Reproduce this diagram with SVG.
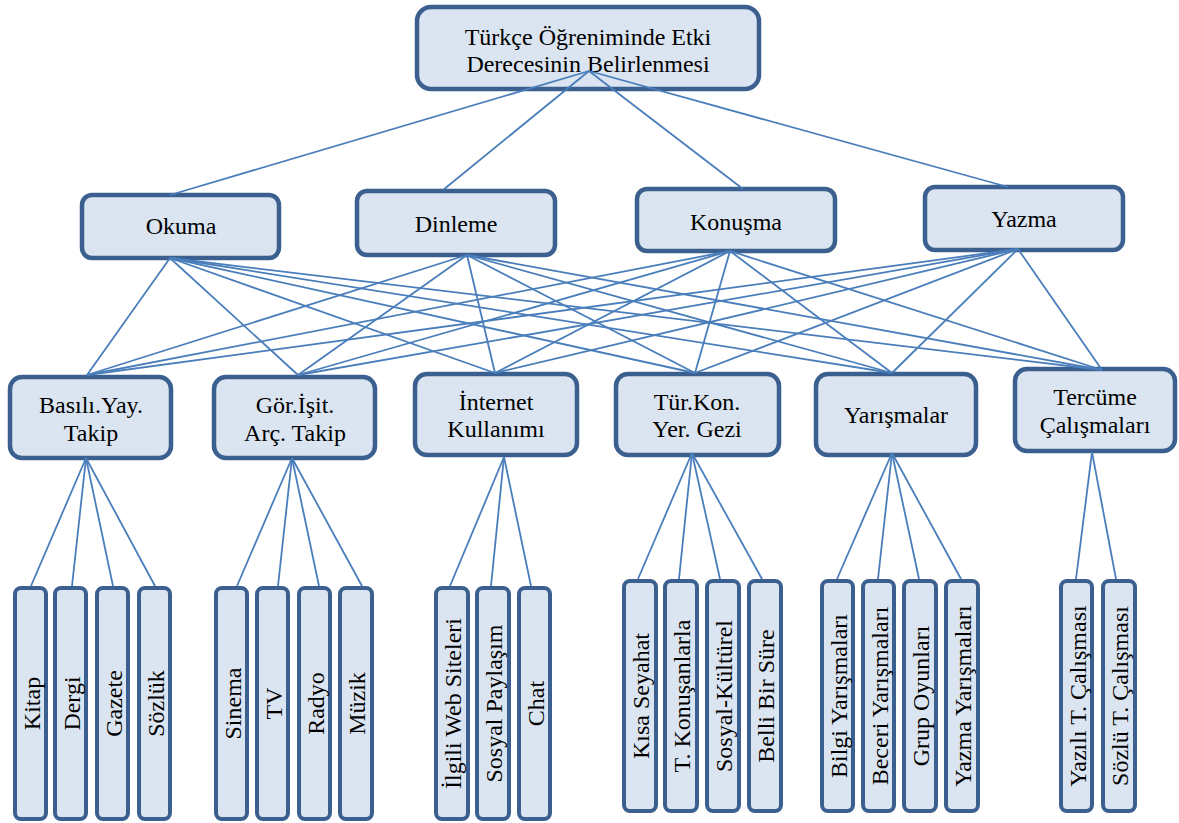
<svg xmlns="http://www.w3.org/2000/svg" width="1179" height="823" viewBox="0 0 1179 823">
<style>
.box{fill:#DBE5F1;stroke:#3B5F8E;stroke-width:4.5}
.leaf{fill:#DBE5F1;stroke:#3B5F8E;stroke-width:4}
.t{font-family:'Liberation Serif','Times New Roman',serif;font-size:24px;fill:#000;text-anchor:middle}
#connectors line{stroke:#4A7EBB;stroke-width:1.8;fill:none}
</style>
<rect width="1179" height="823" fill="#fff"/>
<g id="root"><rect class="box" x="417" y="7" width="342" height="82" rx="14"/><text class="t" x="588" y="45">Türkçe Öğreniminde Etki</text><text class="t" x="588" y="72">Derecesinin Belirlenmesi</text></g>
<g id="okuma"><rect class="box" x="82" y="195" width="197" height="63" rx="10"/><text class="t" x="181" y="234">Okuma</text></g>
<g id="dinleme"><rect class="box" x="357" y="191" width="198" height="64" rx="10"/><text class="t" x="456" y="232">Dinleme</text></g>
<g id="konusma"><rect class="box" x="637" y="189" width="198" height="62" rx="10"/><text class="t" x="736" y="230">Konuşma</text></g>
<g id="yazma"><rect class="box" x="925" y="187" width="198" height="63" rx="10"/><text class="t" x="1024" y="227">Yazma</text></g>
<g id="basili"><rect class="box" x="10" y="377" width="161" height="81" rx="12"/><text class="t" x="91" y="413">Basılı.Yay.</text><text class="t" x="91" y="441">Takip</text></g>
<g id="gorisit"><rect class="box" x="214" y="377" width="161" height="81" rx="12"/><text class="t" x="295" y="413">Gör.İşit.</text><text class="t" x="295" y="441">Arç. Takip</text></g>
<g id="internet"><rect class="box" x="415" y="374" width="162" height="81" rx="12"/><text class="t" x="496" y="410">İnternet</text><text class="t" x="496" y="437">Kullanımı</text></g>
<g id="turkon"><rect class="box" x="616" y="374" width="163" height="81" rx="12"/><text class="t" x="697" y="410">Tür.Kon.</text><text class="t" x="697" y="437">Yer. Gezi</text></g>
<g id="yarismalar"><rect class="box" x="816" y="374" width="160" height="81" rx="12"/><text class="t" x="896" y="423">Yarışmalar</text></g>
<g id="tercume"><rect class="box" x="1015" y="369" width="160" height="82" rx="12"/><text class="t" x="1095" y="405">Tercüme</text><text class="t" x="1095" y="433">Çalışmaları</text></g>
<g id="kitap"><rect class="leaf" x="15" y="588" width="31" height="231" rx="6"/><text class="t" transform="translate(39.5,703.5) rotate(-90)">Kitap</text></g>
<g id="dergi"><rect class="leaf" x="55" y="588" width="31" height="231" rx="6"/><text class="t" transform="translate(79.5,703.5) rotate(-90)">Dergi</text></g>
<g id="gazete"><rect class="leaf" x="97" y="588" width="31" height="231" rx="6"/><text class="t" transform="translate(121.5,703.5) rotate(-90)">Gazete</text></g>
<g id="sozluk"><rect class="leaf" x="139" y="588" width="31" height="231" rx="6"/><text class="t" transform="translate(163.5,703.5) rotate(-90)">Sözlük</text></g>
<g id="sinema"><rect class="leaf" x="216" y="588" width="31" height="231" rx="6"/><text class="t" transform="translate(240.5,703.5) rotate(-90)">Sinema</text></g>
<g id="tv"><rect class="leaf" x="257" y="588" width="31" height="231" rx="6"/><text class="t" transform="translate(281.5,703.5) rotate(-90)">TV</text></g>
<g id="radyo"><rect class="leaf" x="299" y="588" width="31" height="231" rx="6"/><text class="t" transform="translate(323.5,703.5) rotate(-90)">Radyo</text></g>
<g id="muzik"><rect class="leaf" x="340" y="588" width="32" height="231" rx="6"/><text class="t" transform="translate(365,703.5) rotate(-90)">Müzik</text></g>
<g id="ilgili"><rect class="leaf" x="436" y="588" width="32" height="231" rx="6"/><text class="t" transform="translate(461,703.5) rotate(-90)">İlgili Web Siteleri</text></g>
<g id="sosyal"><rect class="leaf" x="477" y="588" width="32" height="231" rx="6"/><text class="t" transform="translate(502,703.5) rotate(-90)">Sosyal Paylaşım</text></g>
<g id="chat"><rect class="leaf" x="519" y="588" width="31" height="231" rx="6"/><text class="t" transform="translate(543.5,703.5) rotate(-90)">Chat</text></g>
<g id="kisa"><rect class="leaf" x="624" y="581" width="32" height="230" rx="6"/><text class="t" transform="translate(649,696) rotate(-90)">Kısa Seyahat</text></g>
<g id="tkon"><rect class="leaf" x="665" y="581" width="32" height="230" rx="6"/><text class="t" transform="translate(690,696) rotate(-90)">T. Konuşanlarla</text></g>
<g id="sosyalk"><rect class="leaf" x="707" y="581" width="32" height="230" rx="6"/><text class="t" transform="translate(732,696) rotate(-90)">Sosyal-Kültürel</text></g>
<g id="belli"><rect class="leaf" x="749" y="581" width="32" height="230" rx="6"/><text class="t" transform="translate(774,696) rotate(-90)">Belli Bir Süre</text></g>
<g id="bilgi"><rect class="leaf" x="822" y="581" width="31" height="230" rx="6"/><text class="t" transform="translate(846.5,696) rotate(-90)">Bilgi Yarışmaları</text></g>
<g id="beceri"><rect class="leaf" x="863" y="581" width="31" height="230" rx="6"/><text class="t" transform="translate(887.5,696) rotate(-90)">Beceri Yarışmaları</text></g>
<g id="grup"><rect class="leaf" x="904" y="581" width="32" height="230" rx="6"/><text class="t" transform="translate(929,696) rotate(-90)">Grup Oyunları</text></g>
<g id="yazmay"><rect class="leaf" x="946" y="581" width="32" height="230" rx="6"/><text class="t" transform="translate(971,696) rotate(-90)">Yazma Yarışmaları</text></g>
<g id="yazili"><rect class="leaf" x="1061" y="581" width="31" height="230" rx="6"/><text class="t" transform="translate(1085.5,696) rotate(-90)">Yazılı T. Çalışması</text></g>
<g id="sozlu"><rect class="leaf" x="1103" y="581" width="32" height="230" rx="6"/><text class="t" transform="translate(1128,696) rotate(-90)">Sözlü T. Çalışması</text></g>
<g id="connectors">
<line x1="589" y1="71" x2="170" y2="195"/>
<line x1="589" y1="71" x2="443" y2="190"/>
<line x1="589" y1="71" x2="743" y2="189"/>
<line x1="589" y1="71" x2="1008" y2="187"/>
<line x1="170" y1="258" x2="87" y2="375"/>
<line x1="170" y1="258" x2="298" y2="375"/>
<line x1="170" y1="258" x2="495" y2="373"/>
<line x1="170" y1="258" x2="695" y2="373"/>
<line x1="170" y1="258" x2="892" y2="373"/>
<line x1="170" y1="258" x2="1102" y2="370"/>
<line x1="467" y1="255" x2="87" y2="375"/>
<line x1="467" y1="255" x2="298" y2="375"/>
<line x1="467" y1="255" x2="495" y2="373"/>
<line x1="467" y1="255" x2="695" y2="373"/>
<line x1="467" y1="255" x2="892" y2="373"/>
<line x1="467" y1="255" x2="1102" y2="370"/>
<line x1="730" y1="251" x2="87" y2="375"/>
<line x1="730" y1="251" x2="298" y2="375"/>
<line x1="730" y1="251" x2="495" y2="373"/>
<line x1="730" y1="251" x2="695" y2="373"/>
<line x1="730" y1="251" x2="892" y2="373"/>
<line x1="730" y1="251" x2="1102" y2="370"/>
<line x1="1018" y1="249" x2="87" y2="375"/>
<line x1="1018" y1="249" x2="298" y2="375"/>
<line x1="1018" y1="249" x2="495" y2="373"/>
<line x1="1018" y1="249" x2="695" y2="373"/>
<line x1="1018" y1="249" x2="892" y2="373"/>
<line x1="1018" y1="249" x2="1102" y2="370"/>
<line x1="86" y1="458" x2="31" y2="586"/>
<line x1="86" y1="458" x2="72" y2="586"/>
<line x1="86" y1="458" x2="113" y2="586"/>
<line x1="86" y1="458" x2="155" y2="586"/>
<line x1="292" y1="458" x2="237" y2="586"/>
<line x1="292" y1="458" x2="278" y2="586"/>
<line x1="292" y1="458" x2="319" y2="586"/>
<line x1="292" y1="458" x2="362" y2="586"/>
<line x1="504" y1="457" x2="450" y2="586"/>
<line x1="504" y1="457" x2="491" y2="586"/>
<line x1="504" y1="457" x2="531" y2="586"/>
<line x1="692" y1="453" x2="638" y2="579"/>
<line x1="692" y1="453" x2="679" y2="579"/>
<line x1="692" y1="453" x2="720" y2="579"/>
<line x1="692" y1="453" x2="762" y2="579"/>
<line x1="892" y1="453" x2="837" y2="579"/>
<line x1="892" y1="453" x2="878" y2="579"/>
<line x1="892" y1="453" x2="919" y2="579"/>
<line x1="892" y1="453" x2="961" y2="579"/>
<line x1="1092" y1="452" x2="1076" y2="579"/>
<line x1="1092" y1="452" x2="1116" y2="579"/>
</g>
</svg>
